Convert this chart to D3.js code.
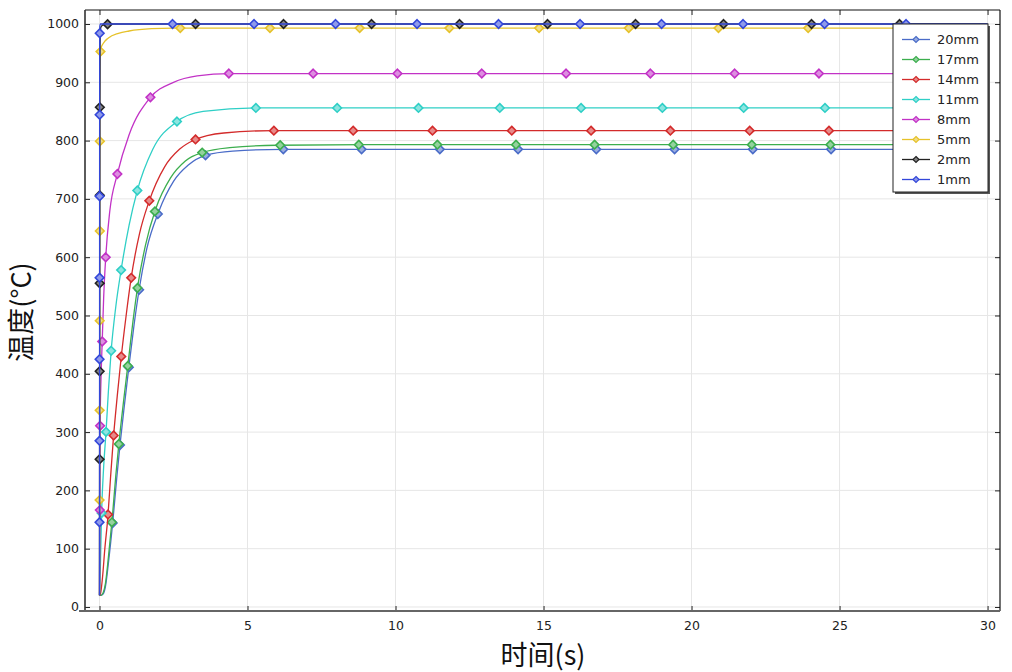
<!DOCTYPE html>
<html><head><meta charset="utf-8">
<script src="https://cdn.jsdelivr.net/npm/d3@7"></script>
<style>body{margin:0;background:#fff}</style>
</head><body><svg id="c" width="1012" height="672"></svg>
<script>
// ---------- data ----------
const seriesNames = ["20mm","17mm","14mm","11mm","8mm","5mm","2mm","1mm"];

const t20 = [0,0.05,0.12,0.2,0.3,0.45,0.58,0.7,0.85,1.0,1.17,1.35,1.6,2.0,2.5,3.0,3.6,4.5,6.2,10,30];
const T20 = [20,20,22,35,75,147,220,282,350,415,485,548,615,678,730,758,775,782,785,785,785];

const t17 = [0,0.05,0.12,0.2,0.3,0.43,0.55,0.67,0.82,0.97,1.13,1.3,1.55,1.9,2.4,2.9,3.5,4.4,6.0,10,30];
const T17 = [20,20,24,40,85,152,225,288,356,420,490,553,620,683,736,765,780,788,792,793,793];

const t14 = [0,0.03,0.1,0.18,0.28,0.37,0.47,0.6,0.73,0.9,1.06,1.35,1.67,2.2,2.7,3.2,4.2,5.85,10,30];
const T14 = [20,22,50,100,153,220,290,362,427,500,561,640,695,755,785,801,813,817,817,817];

const t11 = [0,0.03,0.07,0.14,0.22,0.3,0.39,0.55,0.73,1.0,1.27,1.8,2.6,3.5,5.3,10,30];
const T11 = [20,70,160,240,300,370,437,515,578,655,713,785,832,850,856,856,856];

const t8 = [0,0.005,0.01,0.02,0.05,0.09,0.14,0.21,0.35,0.6,1.0,1.7,2.5,3.3,4.4,10,30];
const T8 = [20,80,160,310,390,453,530,600,680,742,810,873,900,911,915,915,915];

const t5 = [0,0.004,0.008,0.012,0.016,0.022,0.05,0.13,0.3,0.64,1.0,1.76,2.5,4,30];
const T5 = [20,250,500,720,880,945,958,967,976,984,988,992,993,993,993];

const t2 = [0,0.004,0.008,0.012,0.018,0.03,0.06,0.15,0.5,30];
const T2 = [20,300,600,850,960,990,996,999,1000,1000];

const t1 = [0,0.002,0.004,0.006,0.01,0.03,30];
const T1 = [20,400,800,970,995,1000,1000];

const seriesTimes = [t20,t17,t14,t11,t8,t5,t2,t1];
const seriesTemps = [T20,T17,T14,T11,T8,T5,T2,T1];

const xTicks = [0,5,10,15,20,25,30];
const yTicks = [0,100,200,300,400,500,600,700,800,900,1000];
const xTitle = "时间(s)";
const yTitle = "温度(°C)";

// ---------- style ----------
const colors = ["#4a6cc8","#3cae4e","#d32b2b","#2fcfc6","#c232c6","#e6c22a","#222222","#3347d9"];
const markerSpacing = [78.25,78.6,79.3,81.3,84.3,89.7,88,81.5];

const svg = d3.select("#c");
const L = 85, R = 1000, T = 10, B = 611;
const x = d3.scaleLinear().domain([-0.49, 30.42]).range([L, R]);
const y = d3.scaleLinear().domain([-6.9, 1024]).range([B, T]);

svg.append("rect").attr("width",1012).attr("height",672).attr("fill","#fff");

// grid
const g = svg.append("g");
g.selectAll(".gx").data(xTicks).join("line")
  .attr("x1",d=>x(d)).attr("x2",d=>x(d)).attr("y1",T).attr("y2",B)
  .attr("stroke","#e6e6e6").attr("stroke-width",1);
g.selectAll(".gy").data(yTicks).join("line")
  .attr("y1",d=>y(d)).attr("y2",d=>y(d)).attr("x1",L).attr("x2",R)
  .attr("stroke","#e6e6e6").attr("stroke-width",1);

// axes via d3
const font = "'DejaVu Sans', sans-serif";
const xAxisB = d3.axisBottom(x).tickValues(xTicks).tickSize(-5).tickPadding(10).tickFormat(d3.format("d"));
const xAxisT = d3.axisTop(x).tickValues(xTicks).tickSize(-5).tickFormat("");
const yAxisL = d3.axisLeft(y).tickValues(yTicks).tickSize(-5).tickPadding(10).tickFormat(d3.format("d"));
const yAxisR = d3.axisRight(y).tickValues(yTicks).tickSize(-5).tickFormat("");

function styleAxis(sel){
  sel.select(".domain").remove();
  sel.selectAll(".tick line").attr("stroke","#222").attr("stroke-width",1);
  sel.selectAll(".tick text").attr("fill","#222").style("font-family",font).style("font-size","12.5px");
}
svg.append("g").attr("transform",`translate(0,${B})`).call(xAxisB).call(styleAxis);
svg.append("g").attr("transform",`translate(0,${T})`).call(xAxisT).call(styleAxis);
svg.append("g").attr("transform",`translate(${L},0)`).call(yAxisL).call(styleAxis)
  .selectAll(".tick text").attr("x",-6);
svg.append("g").attr("transform",`translate(${R},0)`).call(yAxisR).call(styleAxis);

// frame
svg.append("line").attr("x1",L).attr("x2",R).attr("y1",T).attr("y2",T).attr("stroke","#111").attr("stroke-width",1.2);
svg.append("line").attr("x1",R).attr("x2",R).attr("y1",T).attr("y2",B).attr("stroke","#111").attr("stroke-width",1.2);
svg.append("line").attr("x1",L).attr("x2",L).attr("y1",T).attr("y2",B+1).attr("stroke","#333").attr("stroke-width",1.6);
svg.append("line").attr("x1",L-6).attr("x2",R).attr("y1",B).attr("y2",B).attr("stroke","#666").attr("stroke-width",2.2);

// series
const line = d3.line().x(d=>x(d[0])).y(d=>y(d[1])).curve(d3.curveMonotoneX);
const diamond = (cx,cy,r)=>`M${cx},${cy-r}L${cx+r},${cy}L${cx},${cy+r}L${cx-r},${cy}Z`;

seriesNames.forEach((name,i)=>{
  const pts = seriesTimes[i].map((t,j)=>[t, seriesTemps[i][j]]);
  const c = colors[i];
  const p = svg.append("path").datum(pts).attr("d",line)
    .attr("fill","none").attr("stroke",c).attr("stroke-width",1.3);
  const node = p.node();
  const len = node.getTotalLength();
  const s = markerSpacing[i];
  const fill = d3.interpolateRgb(c,"#ffffff")(0.45);
  for(let k=1; len-k*s > 55; k++){
    const q = node.getPointAtLength(len-k*s);
    svg.append("path").attr("d",diamond(q.x,q.y,4.3))
      .attr("fill",fill).attr("stroke",c).attr("stroke-width",1.6);
  }
});

// legend
const lx = 893, ly = 24, lw = 95, lh = 168;
svg.append("rect").attr("x",lx+2).attr("y",ly+2).attr("width",lw).attr("height",lh).attr("fill","#555");
svg.append("rect").attr("x",lx).attr("y",ly).attr("width",lw).attr("height",lh).attr("fill","#fff").attr("stroke","#222").attr("stroke-width",1);
seriesNames.forEach((name,i)=>{
  const yy = ly + 15.5 + i*20;
  const c = colors[i];
  svg.append("line").attr("x1",lx+9).attr("x2",lx+37).attr("y1",yy).attr("y2",yy).attr("stroke",c).attr("stroke-width",1.3);
  svg.append("path").attr("d",diamond(lx+23,yy,3)).attr("fill",d3.interpolateRgb(c,"#fff")(0.45)).attr("stroke",c).attr("stroke-width",1.2);
  svg.append("text").attr("x",lx+44).attr("y",yy+4.5).text(name)
    .attr("fill","#222").style("font-family",font).style("font-size","13px");
});

// titles
const cjk = "'Noto Sans CJK SC', 'Noto Sans', sans-serif";
svg.append("text").attr("x",543).attr("y",665).attr("text-anchor","middle")
  .style("font-family",cjk).style("font-size","27px").attr("fill","#111").text(xTitle);
svg.append("text").attr("transform","translate(31,312) rotate(-90)").attr("text-anchor","middle")
  .style("font-family",cjk).style("font-size","27px").attr("fill","#111").text(yTitle);
</script>
</body></html>
